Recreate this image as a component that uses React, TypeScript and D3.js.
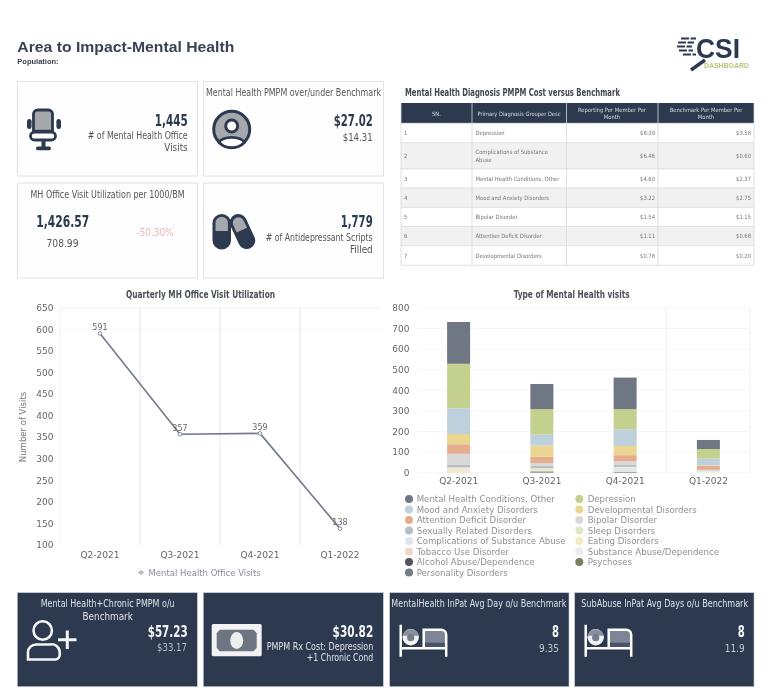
import React from "react";
import * as d3 from "d3";

const quarters = ["Q2-2021", "Q3-2021", "Q4-2021", "Q1-2022"];
const officeVisits = [591, 357, 359, 138];
const seriesNames = [
  "Mental Health Conditions, Other", "Depression", "Mood and Anxiety Disorders", "Developmental Disorders",
  "Attention Deficit Disorder", "Bipolar Disorder", "Sexually Related Disorders", "Sleep Disorders",
  "Complications of Substance Abuse", "Eating Disorders", "Tobacco Use Disorder", "Substance Abuse/Dependence",
  "Alcohol Abuse/Dependence", "Psychoses", "Personality Disorders",
];
const seriesColors = [
  "#6f7684", "#c3d08e", "#bdd0dc", "#ebd691", "#e3ad8e", "#d9d9d9", "#b9bec6", "#e0e9c6",
  "#dee7ed", "#f5e9c5", "#f1d6c6", "#ececec", "#53565e", "#7a8060", "#737c83",
];
const seriesValues = [
  [203, 122, 153, 44], [216, 124, 99, 45], [125, 53, 80, 34], [50, 54, 45, 2], [46, 31, 30, 20],
  [52, 14, 18, 5], [15, 10, 9, 1], [2, 10, 3, 2], [3, 2, 17, 2], [14, 3, 2, 2], [5, 1, 1, 1],
  [1, 1, 1, 1], [0, 4, 2, 0], [0, 1, 1, 0], [0, 1, 1, 0],
];
const tableHeaders = ["SN.", "Primary Diagnosis Grouper Desc", "Reporting Per Member Per Month", "Benchmark Per Member Per Month"];
const tableDiagnoses = [
  ["Depression"], ["Complications of Substance", "Abuse"], ["Mental Health Conditions, Other"],
  ["Mood and Anxiety Disorders"], ["Bipolar Disorder"], ["Attention Deficit Disorder"], ["Developmental Disorders"],
];
const tableReporting = ["$8.39", "$6.46", "$4.60", "$3.22", "$1.54", "$1.11", "$0.78"];
const tableBenchmark = ["$3.58", "$0.60", "$2.37", "$2.75", "$1.15", "$0.68", "$0.20"];

const W = 778, H = 692;
const NAVY = "#2c394e";
const COND = "'DejaVu Sans Condensed','DejaVu Sans',sans-serif";
const DV = "'DejaVu Sans',sans-serif";
const ARIAL = "'Liberation Sans',Arial,sans-serif";

function T({ x, y, s = 10, a = "start", c = "#555", f = COND, b = false, len, children }: any) {
  return (
    <text x={x} y={y} fontSize={s} textAnchor={a} fill={c} fontFamily={f} fontWeight={b ? 700 : 400}
      style={{ fontStretch: f === COND ? "condensed" : undefined }}
      textLength={len} lengthAdjust={len ? "spacingAndGlyphs" : undefined}>{children}</text>
  );
}

function Card({ x, y, w, h }: any) {
  return <rect x={x} y={y} width={w} height={h} fill="#fefefe" stroke="#e2e2e2" strokeWidth={1} />;
}
function Dark({ x, w }: any) {
  return <rect x={x} y={592.7} width={w} height={94} fill={NAVY} stroke="#c4c8cf" strokeWidth={0.6} />;
}

function Bed({ x, y }: any) {
  return (
    <g transform={`translate(${x},${y})`}>
      <path d="M24,6H42a4,4 0 0 1 4,4V19H24Z" fill="#7f8596" />
      <path d="M24,18H46V23H24Z" fill="#465268" />
      <path d="M1,0V32 M1,23.5H46.5 M46.5,32V10a5,5 0 0 0 -5,-5H24V23.5" fill="none" stroke="#fff" strokeWidth={2.5} />
      <circle cx={11} cy={12.5} r={8.2} fill="#f2f3f5" />
      <path d="M3,11a8.2,8.2 0 0 1 16,0Z" fill="#8a8f9c" />
      <circle cx={11} cy={13} r={3.6} fill="#767c8a" />
    </g>
  );
}

export default function App() {
  const lx = d3.scaleBand<string>().domain(quarters).range([60, 380]);
  const ly = d3.scaleLinear().domain([100, 650]).range([545, 308]);
  const line = d3.line<number>().x((_, i) => lx(quarters[i])! + lx.bandwidth() / 2).y((d) => ly(d));
  const bx = d3.scaleBand<string>().domain(quarters).range([417, 750]);
  const by = d3.scaleLinear().domain([0, 800]).range([472.7, 308]);
  const rows = quarters.map((q, i) => {
    const o: any = { q };
    seriesNames.forEach((n, k) => (o[n] = seriesValues[k][i]));
    return o;
  });
  const stackOrder = [...seriesNames].reverse();
  const stacked = d3.stack<any>().keys(stackOrder)(rows);
  const barW = 23;
  const colX = [401, 472, 566.5, 658, 754];
  const rowY = [123.3, 142.7, 169, 188, 207.3, 226.3, 245.7, 265.3];

  return (
    <svg width={W} height={H} viewBox={`0 0 ${W} ${H}`}
      style={{ position: "absolute", left: 0, top: 0, display: "block", background: "#fff", filter: "blur(0.45px)" }}>
      <rect width={W} height={H} fill="#fff" />
      <T x={17.3} y={51.7} s={15.5} b f={ARIAL} c="#3a4353" len={217}>Area to Impact-Mental Health</T>
      <T x={17.3} y={63.5} s={7.5} b f={ARIAL} c="#3a3f48">Population:</T>

      {/* logo */}
      <g>
        <path d="M681,38.5H696 M678,42.5H694 M677,46.5H692 M679,50.5H693 M683,54.5H696" stroke={NAVY} strokeWidth={2.2} strokeDasharray="8 1.5" />
        <path d="M705,60L691,70" stroke={NAVY} strokeWidth={3.4} />
        <text x={696} y={58} fontSize={27} fontWeight={700} fontFamily={ARIAL} fill={NAVY} textLength={44} lengthAdjust="spacingAndGlyphs">CSI</text>
        <text x={704} y={67.7} fontSize={7} fontWeight={700} fontFamily={ARIAL} fill="#b9c57c" textLength={45} lengthAdjust="spacingAndGlyphs">DASHBOARD</text>
      </g>

      <Card x={17.5} y={81.5} w={180} h={94.5} />
      <Card x={203.5} y={81.5} w={180} h={94.5} />
      <Card x={17.5} y={183} w={180} h={95} />
      <Card x={203.5} y={183} w={180} h={95} />

      {/* chair */}
      <g>
        <rect x={33.5} y={110} width={19} height={25} rx={4} fill="#a6a8ad" stroke={NAVY} strokeWidth={2.8} />
        <path d="M33,131H53" stroke={NAVY} strokeWidth={2.4} />
        <rect x={30.5} y={132} width={25} height={8} rx={4} fill="#fff" stroke={NAVY} strokeWidth={2.8} />
        <rect x={27} y={119} width={4.6} height={10} rx={2.3} fill={NAVY} />
        <rect x={56.4} y={119} width={4.6} height={10} rx={2.3} fill={NAVY} />
        <rect x={41.5} y={141} width={4} height={6} fill={NAVY} />
        <rect x={36} y={146.5} width={15} height={3.8} rx={1.9} fill={NAVY} />
      </g>
      {/* person circle */}
      <g>
        <circle cx={231.7} cy={129.3} r={18} fill="#a6a8ad" stroke={NAVY} strokeWidth={3} />
        <circle cx={231.7} cy={126} r={6} fill="#fff" stroke={NAVY} strokeWidth={3} />
        <path d="M219,142.5a13,6.5 0 0 1 25.4,0a18,18 0 0 1 -25.4,0Z" fill="#fff" stroke={NAVY} strokeWidth={2.8} />
      </g>
      {/* pills */}
      <g>
        <rect x={212.5} y={214} width={18.5} height={35.5} rx={9.2} fill={NAVY} />
        <path d="M215.5,231V223a6.2,6.2 0 0 1 12.4,0V231Z" fill="#a6a8ad" />
        <g transform="rotate(-25 242.5 231.5)">
          <rect x={234} y={213} width={17} height={37} rx={8.5} fill={NAVY} />
          <path d="M236.8,230V222a5.7,5.7 0 0 1 11.4,0V230Z" fill="#a6a8ad" />
        </g>
      </g>

      <T x={187.7} y={126} s={16} a="end" b c={NAVY} len={33}>1,445</T>
      <T x={187.7} y={139} s={9.8} a="end" len={100}># of Mental Health Office</T>
      <T x={187.7} y={151} s={9.8} a="end">Visits</T>
      <T x={293.5} y={96} s={9.8} a="middle" len={175}>Mental Health PMPM over/under Benchmark</T>
      <T x={372.7} y={126} s={16} a="end" b c={NAVY} len={39}>$27.02</T>
      <T x={372.7} y={141} s={10} a="end" len={30}>$14.31</T>
      <T x={107.5} y={198} s={9.8} a="middle" len={154}>MH Office Visit Utilization per 1000/BM</T>
      <T x={62.7} y={227} s={16} a="middle" b c={NAVY} len={53}>1,426.57</T>
      <T x={62.5} y={246.7} s={10} a="middle" len={32}>708.99</T>
      <T x={155} y={236} s={10} a="middle" c="#eab7bb" len={37}>-50.30%</T>
      <T x={372.7} y={227} s={16} a="end" b c={NAVY} len={32}>1,779</T>
      <T x={372.7} y={240.7} s={9.8} a="end" len={107}># of Antidepressant Scripts</T>
      <T x={372.7} y={252.7} s={9.8} a="end">Filled</T>

      {/* table */}
      <T x={405} y={96} s={10} b c="#40454f" len={215}>Mental Health Diagnosis PMPM Cost versus Benchmark</T>
      <rect x={colX[0]} y={103} width={colX[4] - colX[0]} height={20.3} fill={NAVY} />
      {tableDiagnoses.map((_, i) => (
        <rect key={i} x={colX[0]} y={rowY[i]} width={colX[4] - colX[0]} height={rowY[i + 1] - rowY[i]} fill={i % 2 ? "#f1f1f1" : "#fff"} />
      ))}
      {rowY.map((y) => <line key={y} x1={colX[0]} x2={colX[4]} y1={y} y2={y} stroke="#d9d9d9" strokeWidth={0.8} />)}
      {colX.map((x) => <line key={x} x1={x} x2={x} y1={103} y2={rowY[7]} stroke="#d9d9d9" strokeWidth={0.8} />)}
      <T x={436.5} y={116} s={5.8} a="middle" c="#d8dce3">{tableHeaders[0]}</T>
      <T x={519} y={116} s={5.8} a="middle" c="#d8dce3" len={83}>{tableHeaders[1]}</T>
      <T x={612} y={112} s={5.8} a="middle" c="#d8dce3" len={68}>Reporting Per Member Per</T>
      <T x={612} y={119.3} s={5.8} a="middle" c="#d8dce3">Month</T>
      <T x={706} y={112} s={5.8} a="middle" c="#d8dce3" len={72.7}>Benchmark Per Member Per</T>
      <T x={706} y={119.3} s={5.8} a="middle" c="#d8dce3">Month</T>
      {tableDiagnoses.map((lines, i) => {
        const cy = (rowY[i] + rowY[i + 1]) / 2 + 2;
        return (
          <g key={i}>
            <T x={404} y={cy} s={5.8} c="#777">{i + 1}</T>
            {lines.map((l, k) => (
              <T key={k} x={475.5} y={cy + (k - (lines.length - 1) / 2) * 7.4} s={5.8} c="#777">{l}</T>
            ))}
            <T x={655} y={cy} s={5.8} a="end" c="#777">{tableReporting[i]}</T>
            <T x={751} y={cy} s={5.8} a="end" c="#777">{tableBenchmark[i]}</T>
          </g>
        );
      })}

      {/* line chart */}
      <T x={200.5} y={297.5} s={10} a="middle" b c="#4a4f58" len={149}>Quarterly MH Office Visit Utilization</T>
      <line x1={60} x2={380} y1={ly(650)} y2={ly(650)} stroke="#eeeff1" />
      <line x1={60} x2={380} y1={ly(600)} y2={ly(600)} stroke="#f6f6f7" />
      {[1, 2, 3].map((k) => (
        <line key={k} x1={60 + k * lx.step()} x2={60 + k * lx.step()} y1={308} y2={545} stroke="#e3e5e8" />
      ))}
      <line x1={60} x2={60} y1={308} y2={545} stroke="#eeeff1" />
      {ly.ticks(11).map((t) => (
        <T key={t} x={53.5} y={ly(t) + 3.2} s={9} a="end" f={DV} c="#666">{t}</T>
      ))}
      {quarters.map((q) => (
        <T key={q} x={lx(q)! + lx.bandwidth() / 2} y={557.5} s={9} a="middle" f={DV} c="#666">{q}</T>
      ))}
      <text transform="translate(26,427) rotate(-90)" textAnchor="middle" fontSize={8.5} fontFamily={DV} fill="#777">Number of Visits</text>
      <path d={line(officeVisits)!} fill="none" stroke="#747a8b" strokeWidth={1.6} />
      {officeVisits.map((v, i) => (
        <g key={i}>
          <circle cx={lx(quarters[i])! + lx.bandwidth() / 2} cy={ly(v)} r={1.8} fill="#fff" stroke="#7383a0" strokeWidth={0.9} />
          <T x={lx(quarters[i])! + lx.bandwidth() / 2} y={ly(v) - 3.5} s={8} a="middle" f={DV} c="#666">{v}</T>
        </g>
      ))}
      <circle cx={141} cy={572.5} r={1.6} fill="#fff" stroke="#8a93a5" strokeWidth={0.9} />
      <line x1={138} x2={144} y1={572.5} y2={572.5} stroke="#8a93a5" strokeWidth={0.5} />
      <T x={148.5} y={575.5} s={8.5} f={DV} c="#8a8f99">Mental Health Office Visits</T>

      {/* stacked bar chart */}
      <T x={571.7} y={297.5} s={10} a="middle" b c="#4a4f58" len={116}>Type of Mental Health visits</T>
      {by.ticks(8).map((t) => (
        <g key={t}>
          <line x1={417} x2={750} y1={by(t)} y2={by(t)} stroke="#f5f6f7" />
          <T x={409.5} y={by(t) + 3.2} s={9} a="end" f={DV} c="#666">{t}</T>
        </g>
      ))}
      <line x1={666.5} x2={666.5} y1={308} y2={472.7} stroke="#f0f1f2" />
      <line x1={750} x2={750} y1={308} y2={472.7} stroke="#f0f1f2" />
      {stacked.map((layer) => {
        const color = seriesColors[seriesNames.indexOf(layer.key)];
        return layer.map((d, i) => (
          <rect key={layer.key + i} x={bx(quarters[i])! + bx.bandwidth() / 2 - barW / 2} width={barW}
            y={by(d[1])} height={Math.max(0, by(d[0]) - by(d[1]))} fill={color} />
        ));
      })}
      {quarters.map((q) => (
        <T key={q} x={bx(q)! + bx.bandwidth() / 2} y={484} s={9} a="middle" f={DV} c="#666">{q}</T>
      ))}
      {seriesNames.map((n, i) => {
        const col = i % 2;
        const row = Math.floor(i / 2);
        const y = 499 + row * 10.5;
        return (
          <g key={n}>
            <circle cx={col ? 579.3 : 409} cy={y} r={4} fill={seriesColors[i]} />
            <T x={col ? 587.7 : 416.7} y={y + 3} s={8.6} f={DV} c="#8d9097">{n}</T>
          </g>
        );
      })}

      {/* dark cards */}
      <Dark x={17.3} w={180} />
      <Dark x={203.3} w={180} />
      <Dark x={389.7} w={179.3} />
      <Dark x={574.7} w={179.3} />

      <T x={107.7} y={607.3} s={9.8} a="middle" c="#dfe2e7" len={134}>Mental Health+Chronic PMPM o/u</T>
      <T x={107.7} y={619.7} s={9.8} a="middle" c="#dfe2e7">Benchmark</T>
      <g fill="none" stroke="#f4f5f6" strokeWidth={2.6}>
        <circle cx={42.7} cy={630.5} r={9.2} />
        <path d="M28,659.5V652a8,8 0 0 1 8,-7.5H50a8,8 0 0 1 9.7,7.5V655a4.5,4.5 0 0 1 -4.5,4.5Z" />
        <path d="M58,639.7H76.5 M67.3,630.5V649" strokeWidth={3} />
      </g>
      <T x={187.7} y={637.3} s={16} a="end" b c="#f4f5f6" len={40}>$57.23</T>
      <T x={187} y={651.3} s={10} a="end" c="#b9bec7" len={30}>$33.17</T>

      <rect x={211.7} y={624} width={50} height={32.3} rx={1.5} fill="#f2f2f2" />
      <path d="M219.7,629.7H253.7l3,3.5V647.8l-3,3.5H219.7l-3,-3.5V633.2Z" fill="#6e7482" />
      <ellipse cx={236.7} cy={640.5} rx={6.5} ry={8.5} fill="#eceded" />
      <T x={373.3} y={637.3} s={16} a="end" b c="#f4f5f6" len={40.7}>$30.82</T>
      <T x={373.3} y={649.7} s={9.8} a="end" c="#dfe2e7" len={106.6}>PMPM Rx Cost: Depression</T>
      <T x={373.3} y={661.3} s={9.8} a="end" c="#dfe2e7" len={66.6}>+1 Chronic Cond</T>

      <T x={478.8} y={607.3} s={9.8} a="middle" c="#dfe2e7" len={175}>MentalHealth InPat Avg Day o/u Benchmark</T>
      <Bed x={399.7} y={624.7} />
      <T x={559} y={636.7} s={15} a="end" b c="#f4f5f6" len={7}>8</T>
      <T x={559} y={652} s={10} a="end" c="#c4c8cf" len={20}>9.35</T>

      <T x={664.7} y={607.3} s={9.8} a="middle" c="#dfe2e7" len={166.7}>SubAbuse InPat Avg Days o/u Benchmark</T>
      <Bed x={584.7} y={624.7} />
      <T x={744.7} y={636.7} s={15} a="end" b c="#f4f5f6" len={7}>8</T>
      <T x={744.7} y={652} s={10} a="end" c="#c4c8cf">11.9</T>
    </svg>
  );
}
